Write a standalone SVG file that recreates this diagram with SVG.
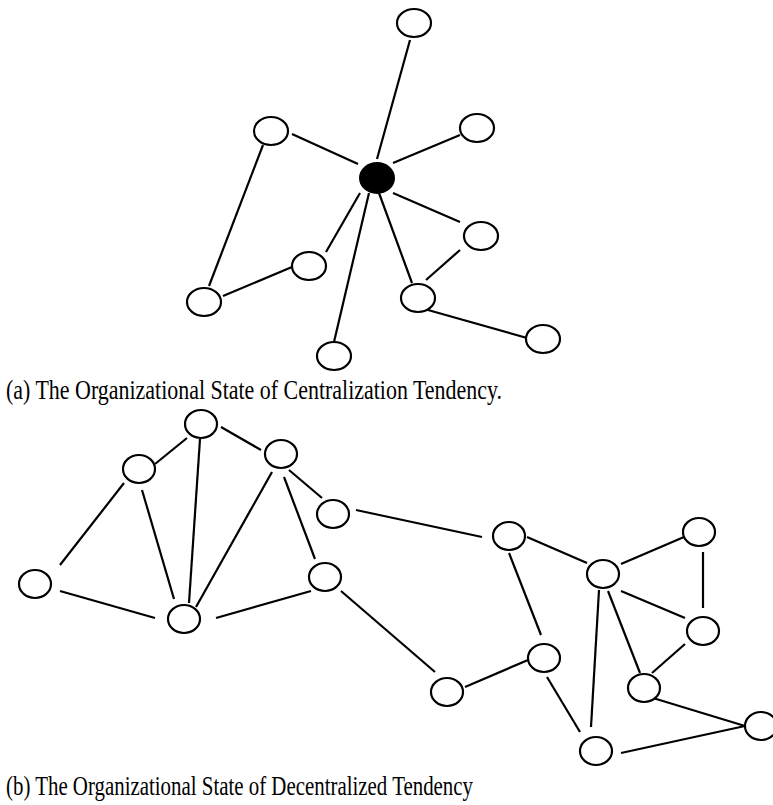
<svg xmlns="http://www.w3.org/2000/svg" width="773" height="805" viewBox="0 0 773 805">
  <style>
    .node { fill: #fff; stroke: #000; stroke-width: 2.2; }
    .hub { fill: #000; stroke: #000; stroke-width: 2; }
    .edges line { stroke: #000; stroke-width: 2.2; stroke-linecap: butt; }
    .caption { font-family: "Liberation Serif", "Times New Roman", serif; font-size: 28px; fill: #000; }
  </style>
  <rect width="773" height="805" fill="#fff"/>

  <!-- (a) centralized network: connectors -->
  <g id="edges-a" class="edges">
    <line x1="377" y1="159" x2="410" y2="40"/>
    <line x1="358" y1="164" x2="292" y2="134"/>
    <line x1="393" y1="163" x2="460" y2="135"/>
    <line x1="393" y1="193" x2="460" y2="222"/>
    <line x1="360" y1="193" x2="326" y2="252"/>
    <line x1="369" y1="193" x2="334" y2="342"/>
    <line x1="379" y1="193" x2="412" y2="283"/>
    <line x1="460" y1="250" x2="426" y2="280"/>
    <line x1="428" y1="310" x2="527" y2="338"/>
    <line x1="263" y1="145" x2="209" y2="286"/>
    <line x1="223" y1="296" x2="292" y2="267"/>
  </g>

  <!-- (a) centralized network: nodes -->
  <g id="a-hub"><ellipse class="hub" cx="377" cy="178" rx="17" ry="15"/></g>
  <g id="a-top"><ellipse class="node" cx="414" cy="23" rx="17" ry="14"/></g>
  <g id="a-upper-left"><ellipse class="node" cx="271" cy="131" rx="17" ry="14"/></g>
  <g id="a-upper-right"><ellipse class="node" cx="477" cy="128" rx="17" ry="14"/></g>
  <g id="a-right"><ellipse class="node" cx="481" cy="236" rx="17" ry="14"/></g>
  <g id="a-left-mid"><ellipse class="node" cx="309" cy="266" rx="17" ry="14"/></g>
  <g id="a-lower-left"><ellipse class="node" cx="204" cy="302" rx="17" ry="14"/></g>
  <g id="a-lower-mid"><ellipse class="node" cx="418" cy="298" rx="17" ry="14"/></g>
  <g id="a-far-right"><ellipse class="node" cx="543" cy="339" rx="17" ry="14"/></g>
  <g id="a-bottom"><ellipse class="node" cx="334" cy="356" rx="17" ry="14"/></g>

  <text id="caption-a" class="caption" x="6" y="399" textLength="496" lengthAdjust="spacingAndGlyphs">(a) The Organizational State of Centralization Tendency.</text>

  <!-- (b) decentralized network: connectors -->
  <g id="edges-b" class="edges">
    <line x1="187" y1="438" x2="155" y2="464"/>
    <line x1="221" y1="427" x2="261" y2="450"/>
    <line x1="200" y1="439" x2="189" y2="603"/>
    <line x1="124" y1="483" x2="60" y2="565"/>
    <line x1="142" y1="490" x2="174" y2="599"/>
    <line x1="272" y1="472" x2="196" y2="607"/>
    <line x1="289" y1="470" x2="322" y2="498"/>
    <line x1="284" y1="477" x2="315" y2="559"/>
    <line x1="60" y1="591" x2="155" y2="618"/>
    <line x1="216" y1="618" x2="311" y2="591"/>
    <line x1="341" y1="591" x2="435" y2="672"/>
    <line x1="356" y1="510" x2="482" y2="537"/>
    <line x1="527" y1="537" x2="587" y2="563"/>
    <line x1="509" y1="553" x2="541" y2="635"/>
    <line x1="621" y1="564" x2="684" y2="537"/>
    <line x1="703" y1="552" x2="703" y2="608"/>
    <line x1="621" y1="591" x2="685" y2="618"/>
    <line x1="608" y1="591" x2="640" y2="673"/>
    <line x1="599" y1="590" x2="591" y2="727"/>
    <line x1="685" y1="644" x2="652" y2="673"/>
    <line x1="653" y1="698" x2="745" y2="726"/>
    <line x1="621" y1="753" x2="745" y2="726"/>
    <line x1="465" y1="687" x2="528" y2="660"/>
    <line x1="547" y1="677" x2="580" y2="732"/>
  </g>

  <!-- (b) decentralized network: nodes -->
  <g id="b-n1"><ellipse class="node" cx="201" cy="424" rx="16" ry="14"/></g>
  <g id="b-n2"><ellipse class="node" cx="139" cy="469" rx="16" ry="14"/></g>
  <g id="b-n3"><ellipse class="node" cx="281" cy="454" rx="16" ry="14"/></g>
  <g id="b-n4"><ellipse class="node" cx="333" cy="514" rx="16" ry="14"/></g>
  <g id="b-n5"><ellipse class="node" cx="35" cy="584" rx="16" ry="14"/></g>
  <g id="b-n6"><ellipse class="node" cx="184" cy="619" rx="16" ry="14"/></g>
  <g id="b-n7"><ellipse class="node" cx="325" cy="577" rx="16" ry="14"/></g>
  <g id="b-n8"><ellipse class="node" cx="509" cy="536" rx="16" ry="14"/></g>
  <g id="b-n9"><ellipse class="node" cx="603" cy="574" rx="16" ry="14"/></g>
  <g id="b-n10"><ellipse class="node" cx="699" cy="532" rx="16" ry="14"/></g>
  <g id="b-n11"><ellipse class="node" cx="703" cy="631" rx="16" ry="14"/></g>
  <g id="b-n12"><ellipse class="node" cx="544" cy="658" rx="16" ry="14"/></g>
  <g id="b-n13"><ellipse class="node" cx="447" cy="692" rx="16" ry="14"/></g>
  <g id="b-n14"><ellipse class="node" cx="644" cy="688" rx="16" ry="14"/></g>
  <g id="b-n15"><ellipse class="node" cx="761" cy="726" rx="16" ry="14"/></g>
  <g id="b-n16"><ellipse class="node" cx="596" cy="751" rx="16" ry="14"/></g>

  <text id="caption-b" class="caption" x="6" y="795" textLength="467" lengthAdjust="spacingAndGlyphs">(b) The Organizational State of Decentralized Tendency</text>
</svg>
